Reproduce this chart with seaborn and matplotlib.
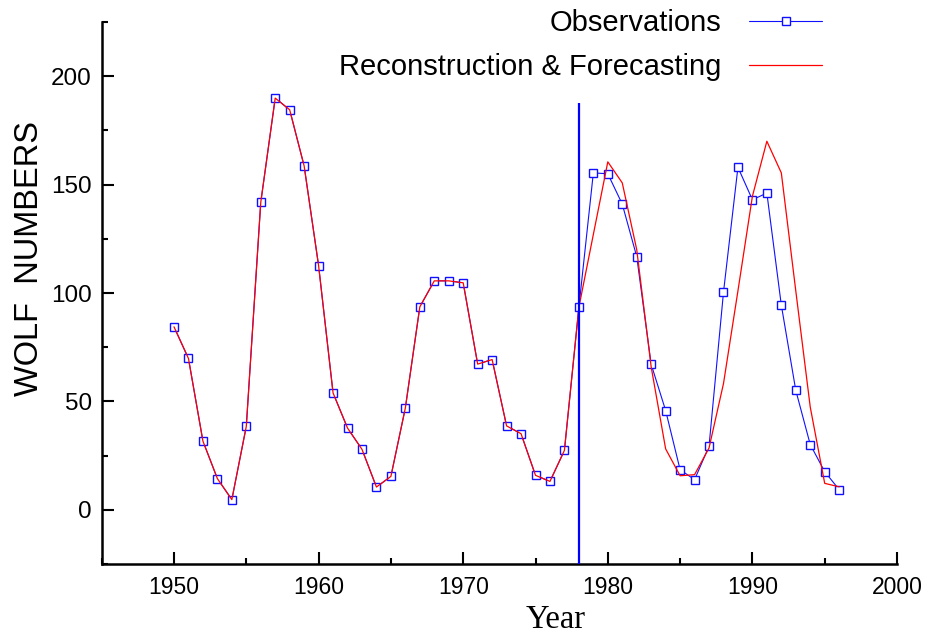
import matplotlib
matplotlib.use("Agg")
import matplotlib.pyplot as plt
from matplotlib.ticker import MultipleLocator
from matplotlib.lines import Line2D
import seaborn as sns
import pandas as pd
import numpy as np

years = list(range(1950, 1997))
observations = [84.4, 69.8, 31.7, 14.4, 4.7, 38.5, 141.8, 189.9, 184.5, 158.6,
                112.6, 53.9, 37.7, 27.9, 10.5, 15.4, 47.0, 93.6, 105.6, 105.6,
                104.7, 67.2, 69.3, 38.7, 35.1, 15.9, 13.1, 27.4, 93.4, 155.4,
                155.0, 141.0, 116.8, 67.1, 45.8, 18.5, 13.9, 29.3, 100.3, 158.0,
                143.0, 146.1, 94.4, 55.1, 30.1, 17.6, 9.3]
reconstruction = [84.4, 69.8, 31.7, 14.4, 4.7, 38.5, 141.8, 189.9, 184.5, 158.6,
                  112.6, 53.9, 37.7, 27.9, 10.5, 15.4, 47.0, 93.6, 105.6, 105.6,
                  104.7, 67.2, 69.3, 38.7, 35.1, 15.9, 13.1, 27.4, 93.4, 127.0,
                  160.5, 150.8, 120.0, 65.9, 28.1, 15.7, 16.2, 28.5, 58.2, 101.0,
                  144.6, 170.0, 155.4, 101.0, 47.4, 12.2, 10.6]
forecast_start = 1978
forecast_line_top = 187.5

labels = ["Observations", "Reconstruction & Forecasting"]
x_label = "Year"
y_label = "WOLF  NUMBERS"

df = pd.DataFrame({"Year": years, "Obs": observations, "Rec": reconstruction})

sns.set_style("white")
plt.rcParams['font.family'] = ['Liberation Sans', 'DejaVu Sans']
plt.rcParams['text.color'] = 'black'
plt.rcParams['xtick.color'] = 'black'
plt.rcParams['ytick.color'] = 'black'

fig = plt.figure(figsize=(9.32, 6.39), dpi=100)
ax = fig.add_axes([101.7 / 932, 1 - 564 / 639, (897 - 101.7) / 932, (564 - 22) / 639])

sns.lineplot(data=df, x="Year", y="Obs", ax=ax, color="#1010ff", lw=0.8,
             marker="s", markersize=5.5, markerfacecolor="white",
             markeredgecolor="#1010ff", markeredgewidth=1.0, zorder=2)
sns.lineplot(data=df, x="Year", y="Rec", ax=ax, color="#ff0000", lw=0.9, zorder=3)
ax.vlines(forecast_start, -25, forecast_line_top, color="#0000ff", lw=1.6, zorder=4)

ax.set_xlim(1945, 2000)
ax.set_ylim(-25, 225)
ax.xaxis.set_major_locator(MultipleLocator(10))
ax.xaxis.set_minor_locator(MultipleLocator(5))
ax.yaxis.set_major_locator(MultipleLocator(50))
ax.yaxis.set_minor_locator(MultipleLocator(25))
ax.set_xlabel("")
ax.set_ylabel("")

for s in ["top", "right"]:
    ax.spines[s].set_visible(False)
for s in ["left", "bottom"]:
    ax.spines[s].set_linewidth(1.8)
    ax.spines[s].set_color("black")

ax.tick_params(axis="both", which="both", bottom=True, left=True, top=False, right=False)
ax.tick_params(axis="both", which="major", direction="in", length=8.5, width=1.5,
               color="black", labelcolor="black")
ax.tick_params(axis="both", which="minor", direction="in", length=4.5, width=1.5,
               color="black")
ax.tick_params(axis="y", which="major", labelsize=17.5, pad=7)
ax.tick_params(axis="x", which="major", labelsize=16.5, pad=9)

fig.text(30 / 932, 1 - 258 / 639, y_label, rotation=90, ha="center", va="center",
         fontsize=23.5, color="black", family=['Liberation Sans', 'DejaVu Sans'])
fig.text(556 / 932, 1 - 620 / 639, x_label, ha="center", va="center",
         fontsize=23.5, color="black", family=['Liberation Serif', 'DejaVu Serif'])

handles = [Line2D([], [], color="#1010ff", lw=0.8, marker="s", markersize=5.5,
                  markerfacecolor="white", markeredgecolor="#1010ff",
                  markeredgewidth=1.0),
           Line2D([], [], color="#ff0000", lw=0.9)]
leg = ax.legend(handles, labels, loc="upper right", bbox_to_anchor=(822 / 932, 1 - 9 / 639),
                bbox_transform=fig.transFigure, frameon=False, markerfirst=False,
                fontsize=21, handlelength=2.5, handletextpad=0.95, borderpad=0,
                borderaxespad=0, labelspacing=0.55, numpoints=1)
for t in leg.get_texts():
    t.set_color("black")

fig.savefig("out.png", dpi=100, facecolor="white")
